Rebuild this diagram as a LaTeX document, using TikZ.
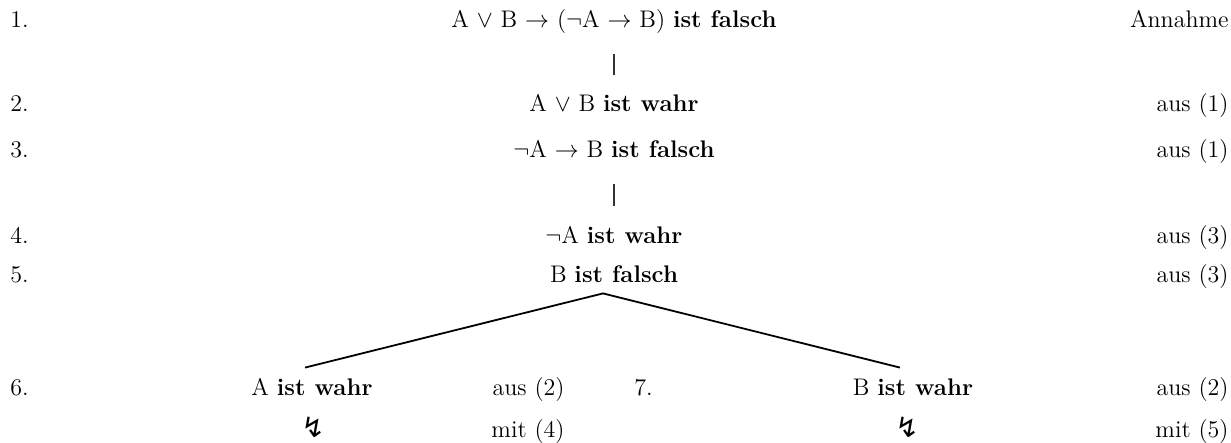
\documentclass[tikz,border=0pt]{standalone}
\usepackage{fontspec}
\newfontfamily\symfont{DejaVu Sans}

\begin{document}
\begin{tikzpicture}[
        x=0.5pt, y=0.5pt,
        every node/.style={inner sep=0pt, font=\fontsize{12}{14.4}\selectfont},
        num/.style={anchor=base west},
        formula/.style={anchor=base, text height=8.5pt, text depth=3pt},
        reason/.style={anchor=base east},
        bar/.style={semithick, black!80, shorten <=10pt, shorten >=10pt},
        branch/.style={line width=0.9pt}
    ]
    \useasboundingbox (0,0) rectangle (1231,-443);

    % ==========================================
    % TRUNK: rows 1 to 5
    % ==========================================
    \node[num] (n1) at (10,-28) {1.};
    \node[formula] (f1) at (614,-28) {A $\vee$ B $\to$ ($\neg$A $\to$ B) \textbf{ist falsch}};
    \node[reason] (r1) at (1229,-28) {Annahme};

    \node[num] (n2) at (10,-112) {2.};
    \node[formula] (f2) at (614,-112) {A $\vee$ B \textbf{ist wahr}};
    \node[reason] (r2) at (1229,-112) {aus (1)};

    \node[num] (n3) at (10,-158) {3.};
    \node[formula] (f3) at (614,-158) {$\neg$A $\to$ B \textbf{ist falsch}};
    \node[reason] (r3) at (1229,-158) {aus (1)};

    \node[num] (n4) at (10,-243) {4.};
    \node[formula] (f4) at (614,-243) {$\neg$A \textbf{ist wahr}};
    \node[reason] (r4) at (1229,-243) {aus (3)};

    \node[num] (n5) at (10,-283) {5.};
    \node[formula] (f5) at (614,-283) {B \textbf{ist falsch}};
    \node[reason] (r5) at (1229,-283) {aus (3)};

    % short strokes between the rows
    \draw[bar] (f1.south) -- (f2.north);
    \draw[bar] (f3.south) -- (f4.north);

    % ==========================================
    % BRANCHES: rows 6 and 7
    % ==========================================
    \node[num] (n6) at (10,-395) {6.};
    \node[formula] (f6) at (312,-395) {A \textbf{ist wahr}};
    \node[reason] (r6) at (565,-395) {aus (2)};
    \node[anchor=base] (z6) at (313,-437) {\symfont\fontsize{14}{16}\selectfont ↯};
    \node[reason] (m6) at (565,-437) {mit (4)};

    \node[num] (n7) at (634,-395) {7.};
    \node[formula] (f7) at (913,-395) {B \textbf{ist wahr}};
    \node[reason] (r7) at (1229,-395) {aus (2)};
    \node[anchor=base] (z7) at (907,-437) {\symfont\fontsize{14}{16}\selectfont ↯};
    \node[reason] (m7) at (1229,-437) {mit (5)};

    % the split below row 5
    \coordinate (split) at ([xshift=-5.5pt, yshift=-2pt]f5.south);
    \draw[branch] ([xshift=-3.5pt, yshift=5pt]f6.north) -- (split) -- ([xshift=-6.5pt, yshift=5pt]f7.north);

\end{tikzpicture}
\end{document}
